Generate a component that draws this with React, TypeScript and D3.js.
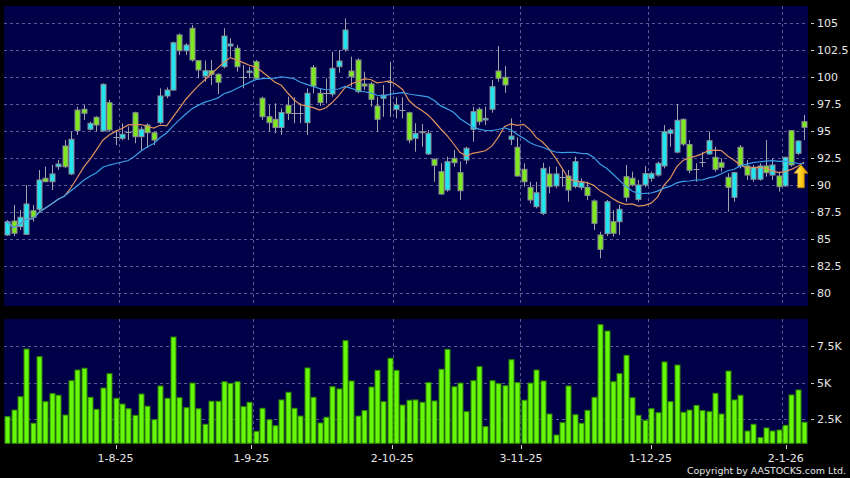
import React from "react";
import * as d3 from "d3";

const W = 850;
const H = 478;

// ---- data ----
const opens = [85.40, 86.69, 86.17, 85.46, 87.65, 87.78, 90.65, 90.33, 91.72, 93.64, 91.05, 96.97, 97.04, 95.19, 96.30, 95.03, 97.65, 94.45, 94.35, 94.97, 96.72, 94.50, 95.58, 94.87, 95.80, 98.27, 98.82, 103.92, 102.46, 104.54, 101.54, 100.12, 100.61, 100.28, 100.98, 102.90, 102.69, 100.00, 100.43, 101.44, 98.06, 96.35, 96.11, 95.35, 97.41, 96.67, 96.70, 95.80, 100.91, 98.52, 98.57, 98.45, 100.98, 102.59, 100.58, 101.60, 99.38, 99.38, 97.34, 98.06, 99.59, 97.04, 96.97, 96.72, 94.35, 94.87, 92.90, 92.41, 91.26, 89.56, 92.50, 91.17, 92.34, 95.19, 97.04, 96.05, 97.04, 100.58, 100.00, 94.26, 93.52, 91.48, 89.81, 88.02, 87.41, 91.05, 89.94, 90.74, 90.86, 89.89, 89.81, 89.81, 88.55, 85.40, 85.52, 86.63, 86.63, 90.80, 90.65, 88.70, 90.03, 90.65, 90.95, 91.79, 94.81, 93.07, 96.11, 93.78, 91.48, 92.19, 92.90, 92.59, 92.09, 90.74, 88.89, 93.52, 91.79, 90.56, 90.56, 91.79, 90.95, 90.86, 89.94, 95.06, 92.96, 95.89];
const highs = [86.78, 88.18, 87.71, 90.03, 88.18, 91.42, 91.72, 91.88, 92.34, 94.19, 94.96, 97.28, 97.44, 95.90, 96.40, 99.44, 97.90, 95.12, 95.74, 95.43, 96.81, 95.43, 95.74, 95.00, 98.98, 99.07, 103.30, 104.07, 103.15, 104.84, 101.60, 101.54, 101.60, 100.37, 104.54, 103.61, 102.99, 101.14, 100.98, 101.60, 98.20, 97.44, 97.59, 97.13, 98.20, 98.15, 97.59, 98.98, 101.14, 98.98, 99.91, 102.37, 102.53, 105.46, 101.91, 101.76, 100.52, 99.59, 98.20, 99.29, 101.44, 98.15, 98.15, 96.81, 95.74, 95.68, 95.12, 92.50, 92.04, 92.65, 93.27, 92.19, 93.57, 97.28, 97.22, 97.28, 99.75, 102.90, 101.05, 96.20, 94.44, 92.04, 90.33, 90.33, 92.09, 91.72, 91.72, 91.57, 91.42, 92.65, 90.65, 90.33, 88.70, 85.70, 88.64, 87.71, 88.18, 91.88, 91.26, 90.49, 91.79, 91.26, 92.19, 95.58, 95.28, 97.53, 96.20, 94.19, 92.04, 93.11, 94.96, 93.57, 92.50, 91.11, 91.26, 93.73, 92.34, 91.88, 92.04, 94.19, 92.50, 91.26, 92.65, 95.12, 94.19, 96.51];
const lows = [85.31, 85.31, 85.86, 85.40, 86.63, 87.43, 90.30, 89.56, 91.42, 91.60, 90.95, 94.66, 96.05, 95.10, 94.96, 94.96, 94.96, 93.73, 94.19, 94.19, 93.89, 93.27, 93.45, 93.73, 95.68, 98.06, 98.75, 102.06, 102.06, 101.44, 99.91, 99.59, 99.29, 98.45, 100.83, 101.91, 100.52, 98.98, 99.91, 99.75, 96.05, 94.96, 94.81, 94.66, 96.05, 95.74, 95.74, 94.66, 98.52, 97.34, 97.59, 98.20, 100.43, 102.37, 99.13, 98.52, 98.82, 97.28, 94.96, 96.35, 96.35, 96.20, 96.20, 93.89, 93.11, 93.57, 92.81, 90.33, 89.10, 89.41, 91.72, 88.64, 91.97, 94.04, 95.58, 95.58, 96.72, 99.59, 98.57, 93.73, 90.80, 89.87, 88.33, 87.87, 87.25, 89.26, 89.72, 89.87, 88.48, 89.72, 89.56, 88.64, 85.86, 83.24, 85.30, 85.24, 85.40, 88.48, 89.90, 88.48, 89.81, 90.33, 90.80, 91.57, 93.57, 92.96, 93.64, 91.11, 90.33, 91.67, 92.81, 91.26, 91.26, 87.56, 88.48, 91.57, 90.49, 90.33, 90.43, 90.80, 90.49, 89.41, 89.87, 91.72, 92.81, 94.19];
const closes = [86.63, 85.56, 87.04, 88.27, 87.04, 90.49, 90.33, 91.05, 91.97, 91.72, 94.26, 95.06, 96.67, 95.74, 95.58, 99.35, 95.12, 94.44, 94.72, 94.96, 94.50, 95.19, 94.87, 94.19, 98.27, 98.82, 103.20, 102.46, 102.99, 101.60, 100.68, 100.61, 100.28, 99.54, 103.82, 103.08, 100.98, 99.98, 100.58, 99.91, 96.35, 95.80, 95.35, 96.74, 96.67, 96.65, 96.68, 98.52, 99.19, 97.65, 98.55, 100.83, 101.51, 104.38, 100.06, 98.67, 99.19, 97.96, 96.11, 98.36, 99.57, 97.44, 96.95, 94.19, 94.81, 94.96, 94.81, 91.85, 89.19, 92.19, 92.09, 89.50, 93.43, 96.81, 95.89, 96.20, 99.13, 99.91, 99.29, 94.56, 90.86, 90.33, 88.64, 89.31, 91.57, 89.87, 91.05, 90.72, 89.56, 92.19, 90.29, 89.06, 86.48, 84.07, 88.48, 85.56, 87.78, 88.89, 90.03, 90.03, 91.08, 91.08, 92.04, 94.96, 95.12, 96.02, 93.82, 91.39, 91.46, 92.17, 94.13, 91.48, 91.67, 89.81, 91.17, 91.79, 90.95, 91.67, 91.79, 91.17, 91.88, 89.87, 92.59, 91.88, 94.10, 95.37];
// volume in thousands
const volumes = [2.68, 3.13, 4.04, 7.29, 2.23, 6.77, 3.70, 4.25, 4.14, 2.79, 5.13, 5.86, 5.98, 4.00, 3.18, 4.63, 5.61, 3.93, 3.54, 3.22, 2.77, 4.22, 3.39, 2.47, 4.77, 3.93, 8.11, 3.97, 3.29, 4.97, 3.22, 2.16, 3.73, 3.73, 5.06, 4.95, 5.06, 3.36, 3.66, 1.68, 3.25, 2.47, 2.06, 3.82, 4.34, 3.25, 2.72, 6.00, 4.00, 2.25, 2.64, 4.72, 4.57, 7.86, 5.11, 2.72, 3.09, 4.70, 5.84, 3.70, 6.66, 5.84, 3.47, 3.80, 3.82, 3.66, 5.00, 3.75, 5.91, 7.27, 4.72, 4.97, 3.02, 5.13, 6.09, 2.00, 5.13, 4.93, 4.79, 6.56, 5.00, 3.80, 4.97, 5.86, 5.11, 2.86, 1.43, 2.27, 4.77, 2.81, 2.23, 3.11, 4.00, 8.95, 8.52, 5.06, 5.61, 6.86, 3.97, 2.77, 2.43, 3.22, 2.95, 6.41, 3.70, 6.20, 2.98, 3.13, 3.45, 3.09, 3.02, 4.27, 2.86, 5.79, 3.82, 4.14, 1.70, 2.16, 1.25, 1.91, 1.70, 1.77, 2.09, 4.16, 4.50, 2.30];

const priceTicks = [80, 82.5, 85, 87.5, 90, 92.5, 95, 97.5, 100, 102.5, 105];
const priceTickLabels = ["80", "82.5", "85", "87.5", "90", "92.5", "95", "97.5", "100", "102.5", "105"];
const volTicks = [2.5, 5, 7.5];
const volTickLabels = ["2.5K", "5K", "7.5K"];
const monthLabels = ["1-8-25", "1-9-25", "2-10-25", "3-11-25", "1-12-25", "2-1-26"];
const monthGridIdx = [17.5, 38.5, 60.5, 80.5, 100.5, 121.5];
const monthLabelIdx = [17.0, 38.3, 60.4, 80.6, 100.9, 122.1];
const maPeriods = [10, 20];
const maColors = ["#e0925e", "#3b9fe6"];
const arrowIdx = 124.5;
const arrowValue = 91.9;

// ---- layout ----
const L = 4, R = 808;
const pTop = 6, pBot = 306;
const vTop = 319, vBot = 443.3;

const bg = "#000048";
const gridCol = "#5c5c92";
const cyan = "#22e3f0";
const green = "#7de81f";

function sma(period: number) {
  return closes.map((_, i) => {
    const s = Math.max(0, i - period + 1);
    const slice = closes.slice(s, i + 1);
    return d3.mean(slice) as number;
  });
}

export default function App() {
  React.useEffect(() => {
    document.body.style.margin = "0";
    document.body.style.background = "#000";
  }, []);

  const x = d3.scaleLinear().domain([-0.5, 125.6]).range([L, R]);
  const y = d3.scaleLinear().domain([80, 105]).range([293.3, 23.3]);
  const yv = d3.scaleLinear().domain([0.863, 9.34]).range([vBot, vTop]);

  const maLines = maPeriods.map((p) => sma(p));
  const lineGen = d3
    .line<number>()
    .x((_, i) => x(i))
    .y((d) => y(d));

  const bw = 5;
  const ax = x(arrowIdx);
  const ay = y(arrowValue);
  const arrowPath = `M${ax},${ay} L${ax + 7},${ay + 8.5} L${ax + 3.3},${ay + 8.5} L${ax + 3.3},${ay + 23} L${ax - 3.3},${ay + 23} L${ax - 3.3},${ay + 8.5} L${ax - 7},${ay + 8.5} Z`;

  const font = "'DejaVu Sans', Verdana, sans-serif";

  return (
    <div style={{ position: "absolute", left: 0, top: 0, width: W, height: H }}>
      <svg width={W} height={H} style={{ display: "block" }}>
        <defs>
          <linearGradient id="arrowGrad" x1="0" y1="0" x2="1" y2="0">
            <stop offset="0" stopColor="#fff0a0" />
            <stop offset="0.45" stopColor="#ffd21e" />
            <stop offset="1" stopColor="#e79800" />
          </linearGradient>
        </defs>
        <rect x={0} y={0} width={W} height={H} fill="#000" />
        {/* panels */}
        <rect x={L} y={pTop} width={R - L} height={pBot - pTop} fill={bg} />
        <rect x={L} y={vTop} width={R - L} height={vBot - vTop} fill={bg} />

        {/* price grid */}
        {priceTicks.map((t, i) => (
          <line key={"pg" + i} x1={L} x2={R} y1={Math.round(y(t)) + 0.5} y2={Math.round(y(t)) + 0.5} stroke={gridCol} strokeDasharray="3,3" strokeWidth={1} />
        ))}
        {monthGridIdx.map((g, i) => (
          <line key={"pvg" + i} x1={Math.round(x(g)) + 0.5} x2={Math.round(x(g)) + 0.5} y1={pTop} y2={pBot} stroke={gridCol} strokeDasharray="3,3" strokeWidth={1} />
        ))}
        {/* volume grid */}
        {volTicks.map((t, i) => (
          <line key={"vg" + i} x1={L} x2={R} y1={Math.round(yv(t)) + 0.5} y2={Math.round(yv(t)) + 0.5} stroke={gridCol} strokeDasharray="3,3" strokeWidth={1} />
        ))}
        {monthGridIdx.map((g, i) => (
          <line key={"vvg" + i} x1={Math.round(x(g)) + 0.5} x2={Math.round(x(g)) + 0.5} y1={vTop} y2={vBot} stroke={gridCol} strokeDasharray="3,3" strokeWidth={1} />
        ))}

        {/* candles */}
        {closes.map((c, i) => {
          const o = opens[i];
          const cx = Math.round(x(i)) + 0.5;
          const top = y(Math.max(o, c));
          const bot = y(Math.min(o, c));
          const up = c > o;
          const doji = Math.abs(c - o) < 0.04;
          return (
            <g key={"c" + i}>
              <line x1={cx} x2={cx} y1={y(highs[i])} y2={y(lows[i])} stroke="#a2a2aa" strokeWidth={1} />
              {doji ? (
                <line x1={cx - bw / 2 - 0.5} x2={cx + bw / 2 + 0.5} y1={Math.round(top) + 0.5} y2={Math.round(top) + 0.5} stroke="#a2a2aa" strokeWidth={1} />
              ) : (
                <rect
                  x={cx - bw / 2}
                  y={top}
                  width={bw}
                  height={Math.max(1, bot - top)}
                  fill={up ? cyan : green}
                  stroke="#8c8c94"
                  strokeWidth={1}
                />
              )}
            </g>
          );
        })}

        {/* moving averages */}
        {maLines.map((m, k) => (
          <path key={"ma" + k} d={lineGen(m) || ""} fill="none" stroke={maColors[k]} strokeWidth={1.2} />
        ))}

        {/* arrow */}
        <path d={arrowPath} fill="url(#arrowGrad)" stroke="#b07a00" strokeWidth={0.8} />

        {/* volume bars */}
        {volumes.map((v, i) => {
          const cx = Math.round(x(i)) + 0.5;
          const top = yv(v);
          return (
            <rect key={"v" + i} x={cx - 2.5} y={top} width={5} height={vBot - top} fill="#66f70a" stroke="#2f8a00" strokeWidth={1} />
          );
        })}

        {/* right axis labels: price */}
        {priceTicks.map((t, i) => (
          <g key={"pt" + i}>
            <line x1={811} x2={814} y1={Math.round(y(t)) + 0.5} y2={Math.round(y(t)) + 0.5} stroke="#cfcfcf" strokeWidth={1} />
            <text x={817} y={y(t)} dy="0.36em" fill="#e6e6e6" fontSize={11} fontFamily={font}>
              {priceTickLabels[i]}
            </text>
          </g>
        ))}
        {/* right axis labels: volume */}
        {volTicks.map((t, i) => (
          <g key={"vt" + i}>
            <line x1={811} x2={814} y1={Math.round(yv(t)) + 0.5} y2={Math.round(yv(t)) + 0.5} stroke="#cfcfcf" strokeWidth={1} />
            <text x={817} y={yv(t)} dy="0.36em" fill="#e6e6e6" fontSize={11} fontFamily={font}>
              {volTickLabels[i]}
            </text>
          </g>
        ))}

        {/* bottom axis */}
        {monthLabelIdx.map((g, i) => (
          <g key={"mx" + i}>
            <line x1={Math.round(x(g)) + 0.5} x2={Math.round(x(g)) + 0.5} y1={445} y2={449} stroke="#cfcfcf" strokeWidth={1} />
            <text x={x(g)} y={462} textAnchor="middle" fill="#e6e6e6" fontSize={11} fontFamily={font}>
              {monthLabels[i]}
            </text>
          </g>
        ))}

        <text x={846} y={473.5} textAnchor="end" fill="#e6e6e6" fontSize={9.5} fontFamily={font} textLength={159} lengthAdjust="spacingAndGlyphs">
          Copyright by AASTOCKS.com Ltd.
        </text>
      </svg>
    </div>
  );
}
